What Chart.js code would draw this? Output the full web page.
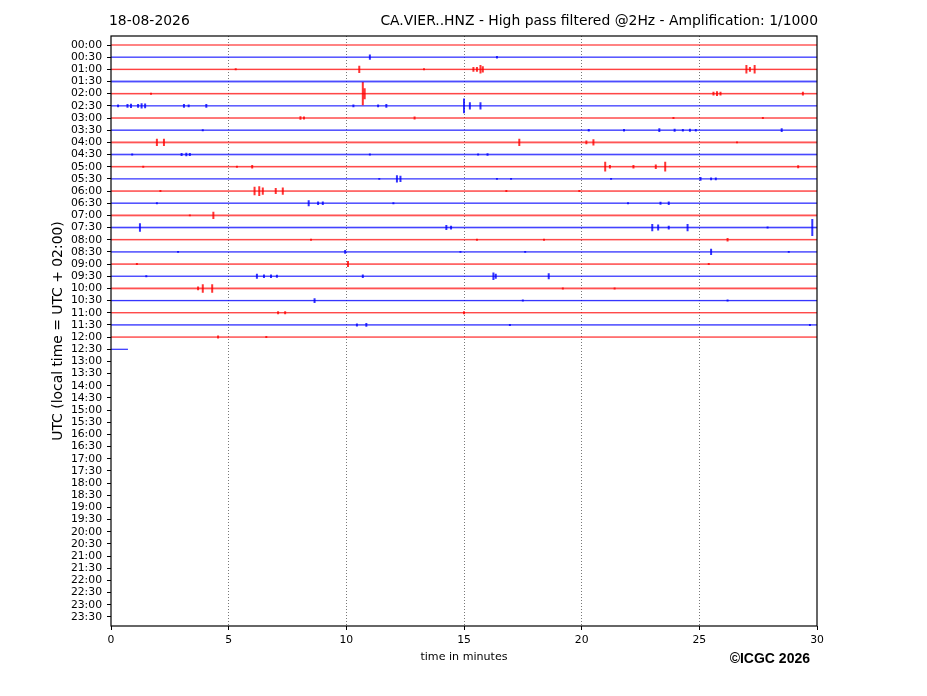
<!DOCTYPE html>
<html>
<head>
<meta charset="utf-8">
<script src="https://cdn.jsdelivr.net/npm/chart.js@4.4.1/dist/chart.umd.min.js"></script>
<style>
  html, body { margin: 0; padding: 0; background: #fff; }
  #wrap { width: 927px; height: 696px; }
</style>
</head>
<body>
<div id="wrap"><canvas id="heli" width="927" height="696"></canvas></div>
<script>
// ---------------- DATA ----------------
const dayLabel = "18-08-2026";
const stationTitle = "CA.VIER..HNZ - High pass filtered @2Hz - Amplification: 1/1000";

const rowLabels = [
    "00:00", "00:30", "01:00", "01:30", "02:00", "02:30", "03:00", "03:30",
    "04:00", "04:30", "05:00", "05:30", "06:00", "06:30", "07:00", "07:30",
    "08:00", "08:30", "09:00", "09:30", "10:00", "10:30", "11:00", "11:30",
    "12:00", "12:30", "13:00", "13:30", "14:00", "14:30", "15:00", "15:30",
    "16:00", "16:30", "17:00", "17:30", "18:00", "18:30", "19:00", "19:30",
    "20:00", "20:30", "21:00", "21:30", "22:00", "22:30", "23:00", "23:30"
];

const minuteTicks = [0, 5, 10, 15, 20, 25, 30];

// minutes of signal recorded in each row (rows after 12:30 have no data yet)
const traceEnd = [
    30, 30, 30, 30, 30, 30, 30, 30, 30, 30, 30, 30, 30,
    30, 30, 30, 30, 30, 30, 30, 30, 30, 30, 30, 30, 0.72
];

// background noise half-amplitude, in row units
const noiseLevel = [
    0.03, 0.05, 0.07, 0.12, 0.08, 0.06, 0.06, 0.07, 0.11, 0.11, 0.08, 0.06, 0.07,
    0.07, 0.11, 0.10, 0.07, 0.06, 0.07, 0.07, 0.11, 0.07, 0.07, 0.07, 0.04, 0.03
];

// [minute, half-amplitude in row units] for each visible spike
const rowEvents = [
    [],
    [[11.0, 0.22], [16.4, 0.1]],
    [[5.3, 0.08], [10.55, 0.3], [13.3, 0.08], [15.4, 0.2], [15.55, 0.2], [15.7, 0.35], [15.8, 0.25],
     [27.0, 0.35], [27.15, 0.2], [27.35, 0.35]],
    [],
    [[1.7, 0.08], [10.7, 0.95], [10.78, 0.45], [25.6, 0.15], [25.75, 0.2], [25.9, 0.15], [29.4, 0.15]],
    [[0.3, 0.12], [0.7, 0.15], [0.85, 0.18], [1.15, 0.15], [1.3, 0.22], [1.45, 0.2], [3.1, 0.15],
     [3.3, 0.12], [4.05, 0.15], [10.3, 0.12], [11.35, 0.12], [11.7, 0.15], [15.0, 0.6], [15.25, 0.3],
     [15.7, 0.3]],
    [[8.05, 0.15], [8.2, 0.12], [12.9, 0.12], [23.9, 0.08], [27.7, 0.08]],
    [[3.9, 0.08], [20.3, 0.1], [21.8, 0.1], [23.3, 0.15], [23.95, 0.12], [24.3, 0.1], [24.6, 0.12],
     [24.85, 0.1], [28.5, 0.15]],
    [[1.95, 0.3], [2.25, 0.3], [17.35, 0.3], [20.2, 0.15], [20.5, 0.25], [26.6, 0.08]],
    [[0.9, 0.08], [3.0, 0.12], [3.2, 0.15], [3.35, 0.12], [11.0, 0.08], [15.6, 0.08], [16.0, 0.1]],
    [[1.37, 0.08], [5.35, 0.08], [6.0, 0.15], [21.0, 0.4], [21.2, 0.15], [22.2, 0.15], [23.15, 0.18],
     [23.55, 0.4], [29.2, 0.12]],
    [[11.4, 0.08], [12.15, 0.3], [12.3, 0.25], [16.4, 0.08], [17.0, 0.08], [21.25, 0.08], [25.05, 0.15],
     [25.5, 0.12], [25.7, 0.12]],
    [[2.1, 0.08], [6.1, 0.35], [6.3, 0.4], [6.45, 0.3], [7.0, 0.25], [7.3, 0.3], [16.8, 0.08], [19.9, 0.08]],
    [[1.95, 0.08], [8.4, 0.25], [8.8, 0.15], [9.0, 0.15], [12.0, 0.08], [21.97, 0.08], [23.35, 0.12],
     [23.7, 0.15]],
    [[3.35, 0.08], [4.35, 0.3]],
    [[1.23, 0.35], [14.25, 0.2], [14.45, 0.15], [23.0, 0.3], [23.25, 0.25], [23.7, 0.15], [24.5, 0.3],
     [27.9, 0.08], [29.8, 0.7]],
    [[8.5, 0.08], [15.55, 0.08], [18.4, 0.08], [26.2, 0.15]],
    [[2.85, 0.08], [9.95, 0.15], [14.85, 0.08], [17.6, 0.08], [25.5, 0.25], [28.8, 0.08]],
    [[1.1, 0.08], [10.07, 0.25], [25.4, 0.08]],
    [[1.5, 0.08], [6.2, 0.2], [6.5, 0.15], [6.8, 0.15], [7.05, 0.12], [10.7, 0.15], [16.25, 0.3],
     [16.35, 0.2], [18.6, 0.25]],
    [[3.7, 0.15], [3.9, 0.35], [4.3, 0.35], [19.2, 0.08], [21.4, 0.08]],
    [[8.65, 0.2], [17.5, 0.08], [26.2, 0.08]],
    [[7.1, 0.12], [7.4, 0.12], [15.0, 0.12]],
    [[10.45, 0.12], [10.85, 0.15], [16.95, 0.08], [29.7, 0.08]],
    [[4.55, 0.12], [6.6, 0.08]],
    []
];

// ---------------- DATASETS ----------------
function rowColor(i, alpha) {
    return i % 2 === 0 ? `rgba(255,0,0,${alpha})` : `rgba(0,0,255,${alpha})`;
}

const datasets = [];
traceEnd.forEach((end, i) => {
    const n = noiseLevel[i];
    // noisier traces look paler, spread over a wider band
    const lineAlpha = Math.max(0.5, Math.min(0.9, 1 - 3.5 * n));
    // noise band (filled between upper and lower edge)
    datasets.push({
        data: [{ x: 0, y: i - n }, { x: end, y: i - n }],
        borderColor: "transparent", borderWidth: 0,
        backgroundColor: rowColor(i, 0.3), fill: "+1", pointRadius: 0,
    });
    datasets.push({
        data: [{ x: 0, y: i + n }, { x: end, y: i + n }],
        borderColor: "transparent", borderWidth: 0, fill: false, pointRadius: 0,
    });
    // trace baseline
    datasets.push({
        data: [{ x: 0, y: i }, { x: end, y: i }],
        borderColor: rowColor(i, lineAlpha), borderWidth: 1, fill: false, pointRadius: 0,
    });
    // spikes
    const pts = [];
    rowEvents[i].forEach(([t, a]) => {
        pts.push({ x: t, y: i - a }, { x: t, y: i + a }, { x: t, y: null });
    });
    if (pts.length) {
        datasets.push({
            data: pts, borderColor: rowColor(i, 0.8), borderWidth: 2,
            fill: false, pointRadius: 0, spanGaps: false,
        });
    }
});

// ---------------- TEXT + FRAME ----------------
const heliDecor = {
    id: "heliDecor",
    afterDraw(chart) {
        const ctx = chart.ctx;
        const a = chart.chartArea;
        ctx.save();
        ctx.fillStyle = "#000";
        ctx.textBaseline = "alphabetic";

        ctx.font = '13.9px "DejaVu Sans"';
        ctx.textAlign = "left";
        ctx.fillText(dayLabel, a.left - 2, 25);
        ctx.textAlign = "right";
        ctx.fillText(stationTitle, a.right + 1, 25);

        ctx.font = '11.1px "DejaVu Sans"';
        ctx.textAlign = "center";
        ctx.fillText("time in minutes", (a.left + a.right) / 2, 660);

        ctx.font = 'bold 14px "Liberation Sans"';
        ctx.textAlign = "right";
        ctx.fillText("©ICGC 2026", 810, 663);

        ctx.translate(62, (a.top + a.bottom) / 2);
        ctx.rotate(-Math.PI / 2);
        ctx.font = '13.9px "DejaVu Sans"';
        ctx.textAlign = "center";
        ctx.fillText("UTC (local time = UTC + 02:00)", 0, 0);
        ctx.restore();

        ctx.save();
        ctx.strokeStyle = "#000";
        ctx.lineWidth = 1.2;
        ctx.strokeRect(a.left, a.top, a.right - a.left, a.bottom - a.top);
        ctx.restore();
    }
};

const tickFont = { family: "DejaVu Sans", size: 10.8 };

new Chart(document.getElementById("heli"), {
    type: "line",
    data: { datasets: datasets },
    options: {
        responsive: false,
        animation: false,
        events: [],
        layout: { padding: { top: 36, right: 110, left: 0, bottom: 0 } },
        plugins: { legend: { display: false }, tooltip: { enabled: false }, title: { display: false } },
        scales: {
            x: {
                type: "linear", min: 0, max: 30,
                afterBuildTicks: (s) => { s.ticks = minuteTicks.map((v) => ({ value: v })); },
                afterFit: (s) => { s.height = 70; },
                ticks: { font: tickFont, color: "#000", padding: 4, maxRotation: 0, autoSkip: false },
                grid: {
                    color: (c) => (c.tick && (c.tick.value === 0 || c.tick.value === 30)) ? "rgba(0,0,0,0)" : "#555",
                    lineWidth: 0.8, tickColor: "#000", tickLength: 4, tickWidth: 1,
                },
                border: { display: false, dash: [1, 2] },
            },
            y: {
                type: "linear", reverse: true, min: -0.74, max: 47.74,
                afterBuildTicks: (s) => { s.ticks = rowLabels.map((_, i) => ({ value: i })); },
                afterFit: (s) => { s.width = 111; },
                ticks: {
                    font: tickFont, color: "#000", padding: 5, autoSkip: false,
                    callback: (v) => rowLabels[v],
                },
                grid: { drawOnChartArea: false, tickColor: "#000", tickLength: 4, tickWidth: 1 },
                border: { display: false },
            },
        },
    },
    plugins: [heliDecor],
});
</script>
</body>
</html>
